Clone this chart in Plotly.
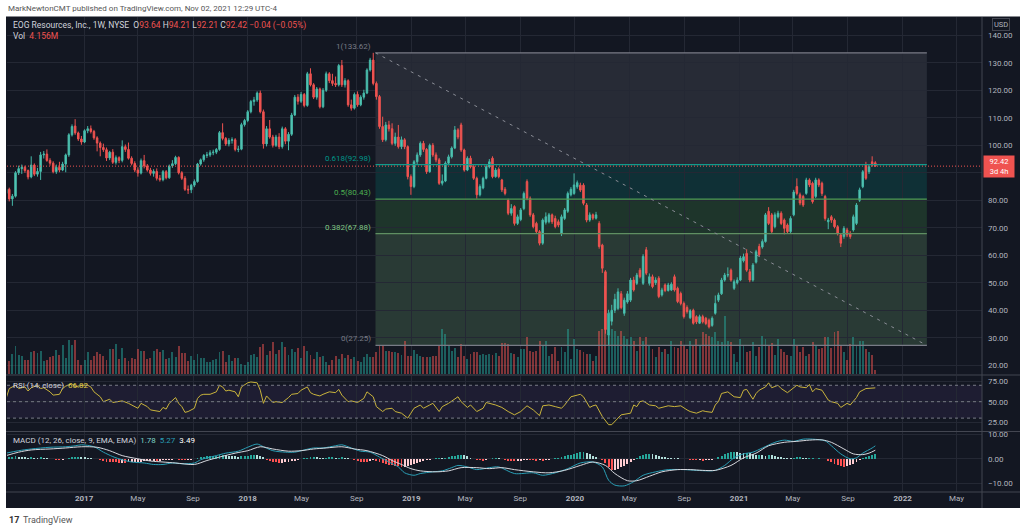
import datetime as dt
import plotly.graph_objects as go

# ---------------- data (weekly) ----------------
week_start = "2016-07-11"

opens = [
    82.5, 84.0, 80.5, 81.5, 90.0, 91.5, 92.0, 90.8, 88.5, 92.8,
    89.5, 90.5, 96.5, 96.8, 94.5, 93.5, 90.4, 92.0, 91.0, 93.2,
    96.5, 103.8, 107.0, 104.5, 102.3, 101.2, 105.3, 106.0, 105.0, 102.7,
    100.8, 99.2, 98.4, 95.4, 97.5, 93.8, 95.5, 94.5, 99.5, 98.5,
    95.3, 93.4, 91.0, 89.9, 94.4, 92.5, 91.0, 89.8, 90.5, 88.0,
    87.5, 90.4, 88.2, 92.5, 93.3, 95.6, 90.0, 88.0, 84.0, 83.8,
    85.5, 86.8, 93.2, 94.7, 96.3, 96.5, 97.3, 97.5, 98.5, 104.6,
    102.5, 100.5, 101.8, 102.0, 98.5, 98.6, 107.5, 109.0, 112.2,
    115.9, 116.5, 119.0, 112.2, 100.5, 106.0, 103.0, 100.0, 103.0, 99.5,
    106.0, 101.5, 104.0, 111.0, 117.5, 116.0, 118.5, 114.5, 126.0, 122.0,
    117.5, 120.5, 114.0, 120.0, 126.0, 123.5, 122.5, 122.0, 129.0, 122.0,
    123.5, 114.7, 113.5, 118.5, 114.7, 117.5, 119.0, 127.4, 131.0, 122.5,
    117.7, 106.8, 102.0, 107.4, 106.0, 100.7, 103.0, 99.5, 102.0, 99.5,
    88.6, 85.0, 94.0, 96.5, 100.7, 98.5, 90.4, 100.0, 96.5, 94.7,
    86.2, 87.0, 93.5, 95.8, 99.0, 105.6, 107.4, 98.3, 91.0, 95.3,
    92.2, 88.0, 82.0,
    84.5, 88.0, 92.2, 95.3, 88.6, 91.3, 87.4, 84.0, 80.0, 75.3,
    77.7, 71.6, 73.0, 77.0, 86.8, 80.7, 74.7, 71.6, 68.6, 64.4,
    72.0, 72.2, 74.7, 73.4, 72.2, 68.0, 73.4, 76.0, 82.0, 82.5,
    84.9, 85.5, 85.5, 78.3, 72.8, 74.7, 73.5, 71.6, 63.7, 54.0,
    31.0, 36.0, 40.0, 40.7, 46.0, 38.9, 43.0, 43.7, 51.0, 49.8,
    54.6, 49.8, 62.0, 49.8, 52.2, 50.0, 51.7, 45.6, 49.2, 47.2,
    47.4, 52.2, 48.0, 46.1, 42.5, 41.0, 37.3, 40.0, 37.7, 35.3,
    37.7, 37.1,
    36.4, 34.5, 38.9, 43.7, 46.0, 51.0, 52.8, 54.6, 48.0, 50.0,
    51.0, 58.0, 60.7, 54.0, 51.0, 57.5, 63.2, 63.0, 65.0, 76.0,
    74.7, 70.4, 74.0, 75.3, 72.8, 71.0, 68.6, 74.7, 85.0, 82.0,
    81.4, 82.5, 87.4, 86.2, 81.4, 87.4, 86.2, 81.4, 72.2, 74.0,
    72.8, 70.4, 67.4, 66.8, 69.2, 68.0, 69.2, 71.6, 80.0, 84.9,
    92.8, 90.4, 94.0, 93.64,
]

closes = [
    84.0, 80.5, 81.5, 90.0, 91.5, 92.0, 90.8, 88.5, 92.8, 89.5,
    90.5, 96.5, 96.8, 94.5, 93.5, 90.4, 92.0, 91.0, 93.2, 96.5,
    103.8, 106.8, 104.5, 102.3, 101.2, 105.3, 106.0, 105.0, 102.7, 100.8,
    99.2, 98.4, 95.4, 97.5, 93.8, 95.5, 94.5, 99.5, 98.5, 95.3,
    93.4, 91.0, 89.9, 94.4, 92.5, 91.0, 89.8, 90.5, 88.0, 87.5,
    90.4, 88.2, 92.5, 93.3, 95.6, 90.0, 88.0, 84.0, 83.8, 85.5,
    86.8, 93.2, 94.7, 96.3, 96.5, 97.3, 97.5, 98.5, 104.6, 102.5,
    100.5, 101.8, 102.0, 98.5, 98.6, 107.5, 109.0, 112.2, 115.9,
    116.5, 119.0, 112.2, 100.5, 106.0, 103.0, 100.0, 103.0, 99.5, 106.0,
    101.5, 104.0, 111.0, 117.5, 116.0, 118.5, 114.5, 126.0, 122.0, 117.5,
    120.5, 114.0, 120.0, 126.0, 123.5, 122.5, 122.0, 129.0, 122.0, 123.5,
    114.7, 113.5, 118.5, 114.7, 117.5, 119.0, 127.4, 131.0, 122.5, 117.7,
    106.8, 102.0, 107.4, 106.0, 100.7, 103.0, 99.5, 102.0, 99.5, 88.6,
    85.0, 94.0, 96.5, 100.7, 98.5, 90.4, 100.0, 96.5, 94.7, 86.2,
    87.0, 93.5, 95.8, 99.0, 105.6, 103.0, 98.3, 91.0, 95.3, 92.2,
    88.0, 82.0, 85.0,
    88.0, 92.2, 94.0, 88.6, 91.0, 88.6, 83.8, 82.5, 75.3, 77.0,
    71.6, 74.0, 76.5, 82.5, 80.7, 74.7, 70.4, 68.6, 64.4, 72.8,
    74.0, 74.7, 72.2, 70.4, 71.0, 74.0, 76.5, 82.5, 84.0, 85.6,
    86.4, 83.7, 78.9, 72.8, 74.7, 73.5, 74.7, 63.2, 55.3, 33.0,
    38.9, 40.0, 44.0, 46.7, 41.0, 43.7, 46.0, 51.0, 47.4, 52.8,
    52.2, 59.6, 53.5, 52.2, 48.6, 51.0, 45.0, 47.4, 47.2, 49.2,
    49.5, 47.4, 43.2, 42.5, 37.7, 39.5, 39.8, 35.3, 35.8, 37.7,
    35.8, 35.2,
    34.0, 37.1, 42.5, 45.6, 51.0, 52.8, 53.0, 51.0, 50.4, 51.0,
    59.0, 59.5, 54.6, 51.0, 56.5, 61.3, 60.2, 65.0, 74.7, 71.6,
    68.6, 74.7, 75.3, 71.6, 69.8, 68.6, 73.4, 83.0, 82.5, 79.0,
    78.3, 87.4, 85.6, 79.5, 87.4, 85.6, 82.5, 73.4, 72.8, 72.8,
    70.4, 68.0, 64.4, 69.8, 67.4, 66.8, 74.0, 78.3, 83.8, 90.4,
    88.0, 92.2, 92.8, 92.42,
]

highs = [
    85.0, 84.6, 82.3, 90.6, 92.6, 93.0, 92.6, 91.2, 96.0, 93.4,
    91.8, 97.6, 97.9, 98.5, 95.3, 94.2, 93.0, 94.0, 94.0, 97.0,
    104.4, 107.6, 109.5, 105.0, 103.4, 105.8, 107.0, 107.2, 105.6, 103.3,
    101.4, 100.6, 99.2, 98.0, 98.6, 96.3, 96.0, 101.8, 100.3, 101.0,
    96.0, 94.2, 92.0, 95.2, 96.5, 93.2, 91.8, 91.3, 91.6, 89.2,
    91.0, 91.0, 93.0, 94.6, 96.2, 96.0, 90.6, 88.8, 85.4, 86.0,
    87.6, 93.6, 95.2, 96.8, 97.6, 98.2, 98.4, 99.0, 105.2, 108.0,
    103.0, 102.6, 102.9, 102.6, 99.8, 108.2, 109.6, 112.8, 116.5,
    117.6, 119.6, 119.9, 113.0, 107.0, 109.2, 103.8, 103.8, 104.4, 106.8,
    106.6, 104.8, 111.8, 118.3, 118.6, 119.4, 119.0, 126.7, 128.0, 122.6,
    121.2, 121.0, 120.8, 126.8, 126.6, 126.0, 125.0, 129.6, 131.0, 124.4,
    124.0, 116.6, 119.2, 119.6, 118.2, 120.2, 128.0, 131.8, 133.62, 123.2,
    118.3, 110.4, 108.5, 108.9, 108.0, 104.6, 107.4, 103.2, 102.6, 100.0,
    89.4, 94.6, 97.4, 101.4, 101.6, 99.0, 100.6, 100.8, 97.4, 95.4,
    89.4, 94.2, 96.6, 99.6, 107.0, 106.2, 108.2, 98.8, 96.0, 96.2,
    92.8, 88.6, 85.8,
    88.6, 92.8, 95.0, 96.0, 91.8, 92.0, 87.8, 84.8, 80.6, 78.6,
    78.2, 74.8, 77.2, 83.2, 87.6, 81.4, 75.4, 72.2, 69.2, 73.4,
    75.6, 75.4, 75.2, 74.4, 73.0, 74.8, 77.2, 83.2, 84.8, 89.8,
    87.2, 86.4, 86.2, 79.0, 75.6, 75.2, 75.8, 72.4, 64.2, 54.6,
    40.2, 42.0, 46.0, 48.0, 47.0, 44.6, 47.0, 51.8, 52.2, 53.6,
    55.4, 60.4, 63.0, 53.4, 53.0, 52.0, 52.4, 48.2, 49.8, 50.0,
    50.2, 53.0, 48.6, 46.8, 43.2, 41.8, 40.4, 40.6, 38.2, 38.4,
    38.4, 37.6,
    37.0, 37.8, 45.4, 46.4, 51.8, 53.6, 55.6, 55.2, 51.2, 52.0,
    59.8, 60.6, 62.2, 55.0, 57.2, 62.0, 64.2, 65.8, 75.4, 77.5,
    75.4, 75.6, 76.2, 76.0, 73.4, 71.6, 74.2, 83.8, 88.0, 82.8,
    82.0, 88.2, 88.0, 86.8, 88.2, 88.0, 86.8, 82.0, 73.6, 74.6,
    73.4, 71.0, 68.0, 70.6, 70.0, 68.8, 74.8, 79.0, 84.6, 91.0,
    94.0, 92.8, 96.0, 94.21,
]

lows = [
    82.0, 79.6, 78.0, 81.0, 89.2, 89.6, 90.0, 87.6, 88.0, 88.8,
    88.6, 87.4, 95.2, 94.0, 92.6, 89.8, 89.6, 90.2, 90.6, 90.2,
    95.8, 103.2, 103.8, 101.6, 100.2, 100.8, 104.4, 104.3, 102.0, 97.8,
    96.0, 97.6, 94.3, 94.6, 93.2, 93.0, 93.5, 93.8, 97.6, 94.8,
    92.7, 90.3, 88.6, 89.4, 91.6, 90.4, 89.0, 88.6, 87.2, 86.8,
    86.9, 87.6, 87.8, 91.8, 92.8, 89.4, 87.4, 83.4, 82.3, 82.6,
    84.8, 86.4, 92.6, 94.0, 95.4, 95.8, 96.4, 96.8, 98.0, 101.8,
    99.8, 99.6, 100.6, 97.8, 97.5, 98.2, 106.8, 108.4, 111.6,
    114.4, 115.8, 111.6, 98.8, 99.6, 102.4, 99.2, 99.4, 98.6, 98.8,
    100.4, 98.2, 103.4, 110.6, 114.8, 115.4, 113.8, 114.0, 121.4, 116.8,
    116.6, 113.4, 113.5, 119.4, 122.6, 121.6, 121.2, 121.4, 121.2, 121.0,
    114.0, 112.6, 113.0, 114.0, 114.2, 116.6, 118.6, 126.8, 121.8, 116.6,
    106.0, 101.2, 101.4, 105.0, 100.0, 99.8, 98.8, 98.6, 98.6, 87.6,
    82.0, 84.4, 93.2, 95.8, 97.6, 89.6, 90.0, 95.8, 93.8, 85.6,
    85.4, 86.6, 93.0, 95.2, 98.6, 102.2, 97.6, 90.4, 90.6, 91.6,
    87.4, 80.6, 81.4,
    84.0, 87.6, 91.6, 88.0, 88.2, 88.0, 83.0, 81.8, 74.6, 74.4,
    70.8, 71.0, 72.4, 76.4, 80.0, 74.0, 69.8, 67.8, 63.6, 63.8,
    71.2, 71.6, 71.4, 69.8, 70.2, 67.0, 72.8, 75.4, 81.4, 82.0,
    84.2, 83.0, 78.2, 72.0, 72.2, 72.8, 73.0, 62.4, 53.6, 31.5,
    27.25, 34.5, 39.0, 40.0, 40.4, 38.0, 42.4, 43.0, 46.8, 49.2,
    51.6, 49.2, 52.8, 49.0, 48.0, 49.2, 44.4, 45.0, 46.6, 46.8,
    47.0, 46.8, 42.6, 41.8, 37.0, 38.8, 36.8, 34.8, 35.0, 35.0,
    35.2, 34.6,
    33.4, 34.0, 38.4, 43.0, 45.6, 50.4, 52.0, 50.4, 47.4, 49.4,
    50.6, 57.4, 54.0, 50.2, 50.4, 57.0, 59.6, 62.4, 64.6, 71.0,
    68.0, 69.8, 73.4, 71.0, 67.6, 68.0, 68.0, 74.2, 81.8, 78.2,
    77.6, 82.0, 84.8, 78.8, 80.8, 84.8, 81.6, 72.6, 69.5, 71.8,
    69.8, 67.2, 63.0, 66.0, 66.6, 66.0, 68.6, 71.0, 79.4, 84.4,
    87.4, 89.6, 92.2, 92.21,
]

# weekly volume, millions of shares
volumes = [
    15, 13, 20, 28, 19, 18, 14, 14, 22, 23, 21, 23, 13, 14, 17, 18, 24, 19, 29, 16,
    34, 29, 34, 14, 9, 14, 22, 14, 18, 22, 20, 18, 14, 25, 25, 30, 15, 26, 16, 13,
    16, 15, 25, 23, 23, 15, 16, 23, 25, 22, 24, 15, 16, 22, 17, 28, 21, 21, 13, 18,
    14, 20, 16, 16, 12, 12, 14, 15, 22, 23, 12, 19, 13, 16, 16, 10, 9, 12, 19,
    20, 17, 27, 30, 19, 23, 32, 20, 24, 32, 27, 19, 25, 22, 26, 16, 28, 23, 19,
    15, 22, 17, 18, 12, 9, 14, 18, 15, 20, 16, 19, 15, 17, 13, 12, 17, 20, 17, 17,
    22, 28, 29, 23, 23, 22, 22, 21, 19, 33, 18, 18, 24, 20, 18, 17, 17, 17, 18, 18,
    28, 45, 40, 28, 23, 26, 17, 30, 18, 15, 20, 22, 22, 19,
    20, 19, 20, 19, 21, 18, 31, 31, 30, 21, 20, 17, 25, 25, 37, 23, 22, 23, 33,
    28, 33, 18, 20, 27, 13, 27, 22, 45, 15, 35, 25, 24, 22, 20, 20, 13, 18,
    43, 45, 88, 62, 45, 43, 38, 43, 38, 35, 37, 33, 23, 37, 33, 37, 28, 25, 17, 27,
    22, 25, 20, 33, 27, 26, 33, 28, 25, 33, 28, 35, 28, 42, 40,
    38, 37, 42, 33, 32, 58, 33, 32, 20, 12, 35, 28, 22, 23, 32, 18, 27, 38, 35, 29,
    31, 19, 35, 25, 22, 19, 18, 35, 28, 22, 27, 18, 20, 32, 28, 25, 26, 37, 37, 26,
    42, 43, 28, 22, 14, 30, 37, 28, 33, 33, 25, 22, 19, 4.156,
]

# RSI(14) read at selected weeks (week index from week_start)
rsi_week = [0, 1, 3, 4, 6, 7, 8, 10, 11, 12, 14, 15, 17, 18, 19, 21, 22, 24, 26, 27,
            28, 30, 31, 33, 34, 36, 37, 39, 41, 42, 43, 45, 46, 48, 49, 50, 51, 52, 54, 55,
            56, 57, 58, 60, 61, 62, 63, 65, 67, 68, 69, 70, 71, 73, 74, 75, 77, 78, 80, 81,
            82, 83, 85, 86, 88, 90, 91, 93, 94, 96, 97, 98, 100, 101, 103, 105, 106, 107, 109, 110,
            112, 114, 115, 117, 118, 120, 121, 123, 124, 126, 128, 129, 130, 132, 133, 135, 136, 138, 139, 141,
            143, 144, 145, 147, 148, 150, 152, 153, 156, 158, 160, 162, 164, 166, 168, 170, 171, 173, 175, 177,
            178, 180, 182, 183, 184, 186, 187, 188, 190, 192, 193, 195, 196, 199, 200, 201, 202, 203, 205, 207,
            208, 210, 211, 213, 215, 217, 218, 220, 222, 223, 225, 226, 227, 228, 230, 232, 234, 235, 236, 238,
            239, 240, 242, 243, 244, 246, 247, 249, 250, 252, 253, 255, 256, 257, 258, 260, 262, 263, 265, 266,
            268, 269, 271, 272, 274, 276, 277]
rsi_value = [54, 66, 70, 66, 68, 63, 67, 70, 66, 67, 62, 58, 59, 66, 69, 72, 68, 70, 70, 68,
             62, 56, 50, 53, 49, 50, 51, 48, 44, 42, 48, 44, 40, 39, 38, 43, 41, 48, 55, 48,
             44, 37, 38, 42, 54, 58, 59, 59, 62, 70, 68, 63, 64, 62, 56, 68, 73, 74, 73, 64,
             48, 57, 49, 50, 49, 55, 59, 60, 64, 68, 61, 59, 57, 59, 62, 61, 65, 58, 50, 51,
             49, 54, 62, 56, 44, 38, 41, 42, 38, 36, 30, 36, 42, 46, 42, 46, 48, 38, 44, 48,
             54, 56, 50, 43, 46, 38, 42, 49, 46, 43, 38, 34, 38, 45, 40, 33, 45, 46, 44, 42,
             46, 56, 58, 59, 56, 43, 45, 46, 32, 22, 22, 30, 34, 36, 46, 44, 50, 51, 46, 45,
             42, 44, 45, 44, 45, 40, 38, 36, 39, 38, 37, 46, 50, 60, 62, 56, 55, 64, 65, 53,
             60, 64, 68, 73, 67, 70, 66, 61, 64, 70, 68, 67, 71, 62, 66, 64, 52, 50, 48, 43,
             48, 46, 55, 62, 66, 67, 66.82]

# MACD(12, 26, 9) lines read at selected weeks
macd_week = [0, 4, 8, 14, 19, 22, 24, 28, 31, 34, 37, 40, 44, 47, 50, 53, 56, 60, 62, 64,
             67, 70, 74, 77, 80, 82, 85, 89, 92, 95, 98, 101, 105, 107, 110, 113, 116, 119, 122, 125,
             127, 130, 132, 136, 139, 142, 144, 147, 150, 154, 157, 162, 168, 171, 175, 179, 183, 187, 190, 192,
             194, 197, 200, 203, 207, 211, 216, 220, 224, 226, 229, 232, 235, 238, 241, 245, 248, 251, 254, 257,
             261, 263, 266, 269, 271, 273, 276, 277]
macd_value = [2.3, 3.3, 4.0, 4.7, 4.9, 5.3, 5.7, 4.9, 2.7, 0.9, -0.4, -1.3, -1.7, -2.3, -2.3, -1.7, -2.0, -1.7, -0.4, 0.4,
              1.3, 2.3, 3.1, 4.7, 6.0, 4.9, 3.3, 2.7, 2.7, 3.6, 4.4, 4.4, 5.3, 5.7, 4.4, 3.1, 2.7, 0.7, -1.3, -3.3,
              -5.7, -6.7, -6.0, -5.3, -4.9, -3.6, -2.7, -3.3, -4.4, -3.6, -3.3, -6.0, -5.7, -6.7, -5.7, -4.0, -1.7, -1.3, -3.3, -8.7,
              -10.7, -11.0, -9.3, -6.7, -5.3, -4.4, -4.4, -4.7, -4.9, -4.7, -2.7, 0.4, 2.0, 2.7, 4.4, 6.7, 7.6, 7.1, 8.0, 8.0,
              7.3, 5.3, 2.0, 0.0, 0.4, 2.3, 4.4, 5.27]
signal_week = [0, 4, 8, 14, 19, 24, 29, 33, 37, 42, 46, 50, 54, 60, 64, 68, 73, 77, 81, 85,
               90, 94, 98, 102, 107, 111, 115, 120, 123, 126, 129, 132, 137, 141, 145, 150, 154, 158, 162, 168,
               173, 178, 183, 187, 191, 194, 198, 201, 205, 209, 214, 218, 222, 226, 231, 235, 239, 243, 248, 252,
               256, 260, 263, 267, 270, 273, 275, 277]
signal_value = [1.3, 2.7, 3.6, 4.0, 4.4, 4.9, 4.7, 3.3, 1.3, 0.0, -0.9, -1.3, -1.7, -2.3, -0.7, 0.7, 2.3, 3.3, 4.9, 4.0,
                3.1, 3.3, 4.0, 4.4, 4.9, 4.0, 3.3, 1.3, -0.7, -2.3, -4.0, -4.9, -5.3, -4.9, -3.6, -3.6, -4.0, -3.6, -4.4, -5.3,
                -5.7, -4.7, -2.7, -1.3, -2.7, -6.0, -8.9, -8.9, -7.1, -5.3, -4.4, -4.4, -4.7, -4.7, -2.7, 0.4, 2.3, 5.3, 6.7, 7.1,
                7.6, 7.7, 6.7, 4.0, 2.0, 1.7, 2.3, 3.49]
# MACD histogram, one value per week
hist_values = [
    0.8, 0.8, 0.9, 1.0, 0.9, 0.7, 0.6, 0.5, 0.6, 0.5, 0.4,
    0.6, 0.5, 0.3, 0.1, -0.1, -0.3, -0.4, -0.3, 0.1, 0.4,
    0.7, 0.8, 0.8, 0.7, 0.6, 0.5, 0.3, 0.1, -0.2, -0.5,
    -0.8, -1.1, -1.2, -1.4, -1.5, -1.7, -1.6, -1.7, -1.5, -1.4,
    -1.3, -1.2, -1.1, -0.9, -0.9, -0.8, -0.7, -0.8, -0.7, -0.6,
    -0.5, -0.5, -0.3, -0.2, -0.4, -0.5, -0.6, -0.6, -0.5, -0.2,
    0.3, 0.6, 0.9, 1.1, 1.2, 1.3, 1.3, 1.5, 1.6, 1.4,
    1.3, 1.2, 1.0, 0.9, 1.1, 1.2, 1.3, 1.4, 1.5, 1.4,
    1.2, 0.6, -0.3, -0.8, -1.2, -1.5, -1.7, -1.6, -1.4, -1.2,
    -0.9, -0.7, -0.4, -0.1, 0.2, 0.4, 0.7, 0.8, 0.6, 0.5,
    0.4, 0.5, 0.6, 0.6, 0.5, 0.5, 0.7, 0.5, 0.2, -0.2,
    -0.5, -0.9, -1.1, -1.2, -1.3, -1.0, -0.6, -0.7, -1.2, -1.9,
    -2.3, -2.5, -2.7, -2.9, -3.1, -3.3, -3.3, -3.0, -2.6, -2.1,
    -1.6, -1.2, -0.8, -0.5, -0.3, -0.1, 0.2, 0.3, 0.2, 0.4,
    0.7, 1.0, 1.3, 1.6, 1.7, 1.5, 1.0, 0.5, 0.1, -0.3,
    -0.6, -0.7, -0.5, -0.2, 0.2, 0.4, 0.3, -0.1, -0.4, -0.7,
    -0.8, -0.9, -0.8, -0.7, -0.5, -0.3, -0.4, -0.6, -0.7, -0.6,
    -0.7, -0.5, -0.3, -0.1, 0.2, 0.5, 0.8, 1.1, 1.4, 1.7,
    2.0, 2.3, 2.6, 2.7, 2.4, 1.8, 1.2, 0.6, 0.1, -0.6,
    -1.8, -3.2, -4.7, -4.5, -4.0, -3.4, -2.8, -2.1, -1.4, -0.6,
    0.2, 1.0, 1.6, 2.0, 2.1, 1.8, 1.5, 1.2, 0.8, 0.6,
    0.5, 0.4, 0.3, 0.2, 0.1, 0.1, -0.2, -0.4, -0.5, -0.6,
    -0.6, -0.7, -0.6, -0.6, -0.4, 0.0, 0.6, 1.2, 1.8, 2.3,
    2.6, 2.7, 2.6, 2.5, 2.3, 2.4, 2.2, 1.8, 1.6, 1.6,
    1.4, 1.3, 1.6, 1.5, 1.1, 0.9, 0.7, 0.5, 0.4, 0.3,
    0.4, 0.6, 0.6, 0.4, 0.2, 0.3, 0.3, 0.1, 0.2, 0.1,
    -0.2, -0.8, -1.5, -2.2, -2.7, -3.1, -3.3, -3.1, -2.6, -2.0,
    -1.4, -0.6, 0.3, 0.9, 1.3, 1.6, 1.78,
]

# Fibonacci retracement drawing
fib_ratio = ["1", "0.618", "0.5", "0.382", "0"]
fib_price = [133.62, 92.98, 80.43, 67.88, 27.25]
fib_start = "2018-10-13"
fib_end = "2022-02-24"

last_price = 92.42
price_ticks = [20, 30, 40, 50, 60, 70, 80, 90, 100, 110, 120, 130, 140]
rsi_ticks = [25, 50, 75]
macd_ticks = [-10, 0, 10]
tick_dates = ["2017-01-01", "2017-05-01", "2017-09-01", "2018-01-01", "2018-05-01", "2018-09-01",
              "2019-01-01", "2019-05-01", "2019-09-01", "2020-01-01", "2020-05-01", "2020-09-01",
              "2021-01-01", "2021-05-01", "2021-09-01", "2022-01-01", "2022-05-01"]
tick_labels = ["2017", "May", "Sep", "2018", "May", "Sep", "2019", "May", "Sep",
               "2020", "May", "Sep", "2021", "May", "Sep", "2022", "May"]

# ---------------- build ----------------
n = len(closes)
assert len(opens) == n and len(highs) == n and len(lows) == n, (len(opens), len(highs), len(lows), n)
assert len(volumes) == n and len(hist_values) == n, (len(volumes), len(hist_values), n)
assert len(rsi_week) == len(rsi_value) and len(macd_week) == len(macd_value) and len(signal_week) == len(signal_value)

base = dt.date.fromisoformat(week_start)
dates = [base + dt.timedelta(days=7 * i) for i in range(n)]

BG = "#131722"
GRID = "#242834"
TXT = "#b2b5be"
UP = "#5ccbbb"
UP_LINE = "#45b8a8"
DN = "#ef5350"
FONT = "Roboto, Arial, sans-serif"
WEEK_MS = 7 * 24 * 3600 * 1000

L, R, T, B = 7, 42, 17, 39
W, H = 1024, 531
PW, PH = W - L - R, H - T - B


def px(xp):
    return (xp - L) / PW


def py(yp):
    return (H - B - yp) / PH


vol_colors = ["rgba(38,166,154,0.5)" if c >= o else "rgba(239,83,80,0.5)" for o, c in zip(opens, closes)]

hist_colors = []
for k, h in enumerate(hist_values):
    prev = hist_values[k - 1] if k > 0 else 0
    if h >= 0:
        hist_colors.append("#26a69a" if h >= prev else "#b2dfdb")
    else:
        hist_colors.append("#ff5252" if h < prev else "#ffcdd2")

fig = go.Figure()
fig.add_trace(go.Bar(x=dates, y=volumes, marker=dict(color=vol_colors, line=dict(width=0)),
                     width=WEEK_MS * 0.62, xaxis="x", yaxis="y4", hoverinfo="skip"))
fig.add_trace(go.Candlestick(x=dates, open=opens, high=highs, low=lows, close=closes,
                             increasing=dict(line=dict(color=UP_LINE, width=1), fillcolor=UP),
                             decreasing=dict(line=dict(color=DN, width=1), fillcolor=DN),
                             whiskerwidth=0, xaxis="x", yaxis="y", hoverinfo="skip"))
fig.add_trace(go.Scatter(x=[dates[w] for w in rsi_week], y=rsi_value, mode="lines",
                         line=dict(color="#c9b43c", width=1), xaxis="x2", yaxis="y2", hoverinfo="skip"))
fig.add_trace(go.Bar(x=dates, y=hist_values, marker=dict(color=hist_colors, line=dict(width=0)),
                     width=WEEK_MS * 0.62, xaxis="x3", yaxis="y3", hoverinfo="skip"))
fig.add_trace(go.Scatter(x=[dates[w] for w in macd_week], y=macd_value, mode="lines",
                         line=dict(color="#2a9fb6", width=1, shape="spline", smoothing=0.8),
                         xaxis="x3", yaxis="y3", hoverinfo="skip"))
fig.add_trace(go.Scatter(x=[dates[w] for w in signal_week], y=signal_value, mode="lines",
                         line=dict(color="#d6d8de", width=1, shape="spline", smoothing=0.8),
                         xaxis="x3", yaxis="y3", hoverinfo="skip"))

x_range = ["2016-07-13", "2022-06-27"]
xbase = dict(type="date", range=x_range, showgrid=True, gridcolor=GRID, gridwidth=1, zeroline=False,
             showline=False, tickvals=tick_dates, ticks="", fixedrange=True)

main_dom = [py(374), 1]
rsi_dom = [py(431), py(376)]
macd_dom = [0, py(432)]

ybase = dict(side="right", showgrid=True, gridcolor=GRID, gridwidth=1, zeroline=False, showline=False,
             ticks="", tickfont=dict(size=8, color=TXT, family=FONT), ticklabelstandoff=5)

fig.update_layout(
    width=W, height=H, margin=dict(l=L, r=R, t=T, b=B),
    paper_bgcolor="white", plot_bgcolor=BG, showlegend=False,
    font=dict(family=FONT, size=8, color=TXT), hovermode=False,
    xaxis=dict(xbase, anchor="y", showticklabels=False, rangeslider=dict(visible=False)),
    xaxis2=dict(xbase, anchor="y2", matches="x", showticklabels=False),
    xaxis3=dict(xbase, anchor="y3", matches="x", showticklabels=True,
                ticktext=[f"<b>{t}</b>" if t.isdigit() else t for t in tick_labels],
                tickfont=dict(size=8, color=TXT, family=FONT)),
    yaxis=dict(ybase, domain=main_dom, anchor="x", range=[16.84, 146.65], tickvals=price_ticks,
               ticktext=[f"{v:.2f}" for v in price_ticks]),
    yaxis4=dict(overlaying="y", anchor="x", range=[0, 357], visible=False, showgrid=False),
    yaxis2=dict(ybase, domain=rsi_dom, anchor="x2", range=[14.3, 81.3], tickvals=rsi_ticks,
                ticktext=[f"{v:.2f}" for v in rsi_ticks]),
    yaxis3=dict(ybase, domain=macd_dom, anchor="x3", range=[-13.5, 10.9], tickvals=macd_ticks,
                ticktext=[f"{v:.2f}".replace("-", "\u2212") for v in macd_ticks]),
    bargap=0,
)

shapes = []
# dark chart container
shapes.append(dict(type="rect", xref="paper", yref="paper", x0=px(6), x1=px(1020), y0=py(508), y1=py(16.5),
                   fillcolor=BG, line=dict(width=0), layer="below"))
# fib zones
zone_cols = ["rgba(120,123,134,0.2)", "rgba(0,150,136,0.2)", "rgba(76,175,80,0.2)", "rgba(129,199,132,0.2)"]
for k in range(4):
    shapes.append(dict(type="rect", xref="x", yref="y", x0=fib_start, x1=fib_end,
                       y0=fib_price[k + 1], y1=fib_price[k], fillcolor=zone_cols[k],
                       line=dict(width=0), layer="below"))
line_cols = ["#787b86", "#009688", "#4caf50", "#81c784", "#787b86"]
draw_cols = ["#787b86", "#129a8c", "#4f9a55", "#5f8f62", "#787b86"]
for k in range(5):
    shapes.append(dict(type="line", xref="x", yref="y", x0=fib_start, x1=fib_end,
                       y0=fib_price[k], y1=fib_price[k], line=dict(color=draw_cols[k], width=1.3)))
shapes.append(dict(type="line", xref="x", yref="y", x0=fib_start, x1=fib_end,
                   y0=fib_price[0], y1=fib_price[-1], line=dict(color="#8a8d96", width=1, dash="3px,5px")))
# current price dotted line
shapes.append(dict(type="line", xref="paper", yref="y", x0=0, x1=1, y0=last_price, y1=last_price,
                   line=dict(color="#ef5350", width=1, dash="1px,2px")))
# RSI band and levels
shapes.append(dict(type="rect", xref="paper", yref="y2", x0=0, x1=1, y0=30, y1=70,
                   fillcolor="rgba(126,87,194,0.10)", line=dict(width=0), layer="below"))
for lv in (70, 50, 30):
    shapes.append(dict(type="line", xref="paper", yref="y2", x0=0, x1=1, y0=lv, y1=lv,
                       line=dict(color="#787b86", width=1, dash="3px,3px")))
# pane separators
SEP = "#434651"
for yy in (375, 431.5, 492):
    shapes.append(dict(type="line", xref="paper", yref="paper", x0=px(6), x1=px(1020), y0=py(yy), y1=py(yy),
                       line=dict(color=SEP, width=1)))
shapes.append(dict(type="line", xref="paper", yref="paper", x0=1, x1=1, y0=py(508), y1=py(17),
                   line=dict(color=SEP, width=1)))
fig.update_layout(shapes=shapes)

red = "#ef5350"


def sp(t, c):
    return f"<span style='color:{c}'>{t}</span>"


ann = []
ann.append(dict(xref="paper", yref="paper", x=px(6), y=py(8), xanchor="left", yanchor="middle",
                text="MarkNewtonCMT published on TradingView.com, Nov 02, 2021 12:29 UTC-4",
                font=dict(size=8, color="#555555", family=FONT), showarrow=False))
hdr = ("EOG Resources, Inc., 1W, NYSE  O" + sp("93.64", red) + " H" + sp("94.21", red) +
       " L" + sp("92.21", red) + " C" + sp("92.42", red) + " " + sp("\u22120.04 (\u22120.05%)", red))
ann.append(dict(xref="paper", yref="paper", x=px(11), y=py(25.5), xanchor="left", yanchor="middle",
                text=hdr, font=dict(size=8.5, color="#d1d4dc", family=FONT), showarrow=False))
ann.append(dict(xref="paper", yref="paper", x=px(11), y=py(36), xanchor="left", yanchor="middle",
                text="Vol  " + sp("4.156M", red), font=dict(size=8.5, color="#d1d4dc", family=FONT),
                showarrow=False))
ann.append(dict(xref="paper", yref="paper", x=px(11), y=py(385), xanchor="left", yanchor="middle",
                text="RSI (14, close)  " + sp("66.82", "#e2cf45"),
                font=dict(size=8, color="#d1d4dc", family=FONT), showarrow=False))
ann.append(dict(xref="paper", yref="paper", x=px(11), y=py(440), xanchor="left", yanchor="middle",
                text="MACD (12, 26, close, 9, EMA, EMA)  " + sp("1.78", "#7fd3c8") + "  " +
                     sp("5.27", "#2a9fb6") + "  " + sp("3.49", "#ffffff"),
                font=dict(size=8, color="#d1d4dc", family=FONT), showarrow=False))
for k in range(5):
    ann.append(dict(xref="x", yref="y", x=fib_start, y=fib_price[k], xanchor="right", yanchor="bottom",
                    xshift=-2, yshift=0, text=f"{fib_ratio[k]}({fib_price[k]:.2f})",
                    font=dict(size=8, color=line_cols[k], family=FONT), showarrow=False))
ann.append(dict(xref="paper", yref="y", x=px(983), y=last_price, xanchor="left", yanchor="middle",
                text=f"{last_price:.2f}<br>3d 4h", bgcolor=red, width=28, align="center",
                font=dict(size=7.5, color="white", family=FONT), showarrow=False, borderpad=1))
ann.append(dict(xref="paper", yref="paper", x=px(1001), y=py(24), xanchor="center", yanchor="middle",
                text="USD", font=dict(size=7.5, color=TXT, family=FONT), showarrow=False,
                bordercolor="#434651", borderwidth=1, borderpad=1, bgcolor=BG))
ann.append(dict(xref="paper", yref="paper", x=px(7), y=py(519.5), xanchor="left", yanchor="middle",
                text="<b>17</b>", font=dict(size=9, color="#333333", family=FONT), showarrow=False))
ann.append(dict(xref="paper", yref="paper", x=px(21), y=py(519.5), xanchor="left", yanchor="middle",
                text="TradingView", font=dict(size=9, color="#555555", family=FONT), showarrow=False))
fig.update_layout(annotations=ann)

fig.write_html("out.html", config=dict(displayModeBar=False, staticPlot=True),
               post_script="document.body.style.margin='0';")
